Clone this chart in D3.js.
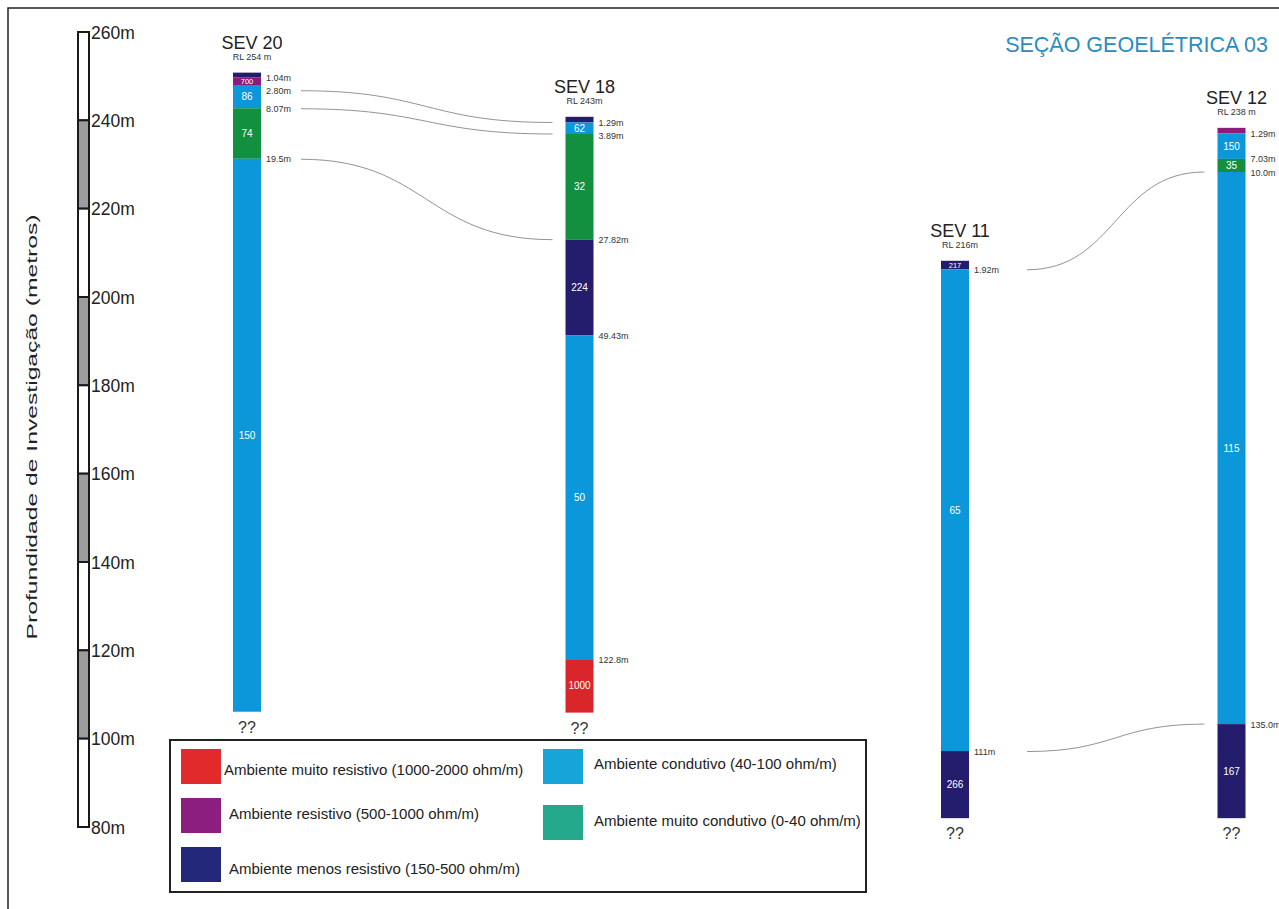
<!DOCTYPE html>
<html>
<head>
<meta charset="utf-8">
<script src="https://cdn.jsdelivr.net/npm/d3@7"></script>
<style>
  body { margin: 0; background: #fff; }
  svg { display: block; font-family: "Liberation Sans", Arial, sans-serif; }
</style>
</head>
<body>
<svg id="chart" width="1279" height="909"></svg>
<script>
// ---- Sounding data (elevations and depths in metres, resistivity in ohm·m) ----
const sevNames = ["SEV 20", "SEV 18", "SEV 11", "SEV 12"];
const rlLabels = ["RL 254 m", "RL 243m", "RL 216m", "RL 238 m"];
// elevation at which each column starts on the vertical scale
const surfaceElev = [250.8, 240.8, 208.2, 238.3];
// depth reached by the last (open) layer of each sounding
const baseDepth = [144.7, 134.9, 126.2, 156.3];

const sev20Depths = ["1.04", "2.80", "8.07", "19.5"];
const sev20Rho = ["", "700", "86", "74", "150"];
const sev20Class = ["menos", "resistivo", "condutivo", "muitoCondutivo", "condutivo"];

const sev18Depths = ["1.29", "3.89", "27.82", "49.43", "122.8"];
const sev18Rho = ["", "62", "32", "224", "50", "1000"];
const sev18Class = ["menos", "condutivo", "muitoCondutivo", "menos", "condutivo", "muitoResistivo"];

const sev11Depths = ["1.92", "111"];
const sev11Rho = ["217", "65", "266"];
const sev11Class = ["menos", "condutivo", "menos"];

const sev12Depths = ["1.29", "7.03", "10.0", "135.0"];
const sev12Rho = ["", "150", "35", "115", "167"];
const sev12Class = ["resistivo", "condutivo", "muitoCondutivo", "condutivo", "menos"];

// correlated boundaries: [sounding index, boundary index]
const linkFrom = [[0, 1], [0, 2], [0, 3], [2, 0], [2, 1]];
const linkTo   = [[1, 0], [1, 1], [1, 2], [3, 2], [3, 3]];

// vertical scale bar
const scaleTicks = [260, 240, 220, 200, 180, 160, 140, 120, 100, 80];

// legend
const legendKeys = ["muitoResistivo", "resistivo", "menos", "condutivo", "muitoCondutivo"];
const legendLabels = [
  "Ambiente muito resistivo (1000-2000 ohm/m)",
  "Ambiente resistivo (500-1000 ohm/m)",
  "Ambiente menos resistivo (150-500 ohm/m)",
  "Ambiente condutivo (40-100 ohm/m)",
  "Ambiente muito condutivo (0-40 ohm/m)"
];

const title = "SEÇÃO GEOELÉTRICA 03";
const axisTitle = "Profundidade de Investigação (metros)";

// ---- Colours ----
const layerColor = {
  muitoResistivo: "#d8262a",
  resistivo: "#8c1b7b",
  menos: "#241d6d",
  condutivo: "#0b97d9",
  muitoCondutivo: "#13903f"
};
const legendColor = {
  muitoResistivo: "#e02a2b",
  resistivo: "#8b1e7f",
  menos: "#24287a",
  condutivo: "#17a5d9",
  muitoCondutivo: "#24a98c"
};

// ---- Layout ----
const W = 1279, H = 909;
const svg = d3.select("#chart");
const y = d3.scaleLinear().domain([260, 80]).range([32, 827]);
const colX = [247, 579.5, 955, 1231.5];
const colW = 28;
const linkPad = [40, 0, 58, 0];

const soundings = [
  { depths: sev20Depths, rho: sev20Rho, cls: sev20Class },
  { depths: sev18Depths, rho: sev18Rho, cls: sev18Class },
  { depths: sev11Depths, rho: sev11Rho, cls: sev11Class },
  { depths: sev12Depths, rho: sev12Rho, cls: sev12Class }
].map((s, i) => {
  const bounds = [0, ...s.depths.map(Number), baseDepth[i]];
  const layers = s.cls.map((c, k) => ({
    cls: c, rho: s.rho[k], top: bounds[k], bottom: bounds[k + 1]
  }));
  return { i, name: sevNames[i], rl: rlLabels[i], surf: surfaceElev[i],
           depths: s.depths, layers };
});

const yDepth = (s, d) => y(s.surf - d);

// depth labels pushed apart so they never overlap
function labelY(s) {
  const out = [];
  s.depths.forEach((d, k) => {
    let v = yDepth(s, +d) + 3.5;
    if (k > 0) v = Math.max(v, out[k - 1] + 13);
    out.push(v);
  });
  return out;
}

// frame
svg.append("path")
  .attr("d", `M8,${H} V8 H${W}`)
  .attr("fill", "none").attr("stroke", "#222").attr("stroke-width", 1.5);

// title
svg.append("text")
  .attr("x", 1268).attr("y", 52)
  .attr("text-anchor", "end")
  .attr("font-size", 21.5).attr("fill", "#2b8cc4")
  .text(title);

// axis title
svg.append("text")
  .attr("transform", "translate(31,427) rotate(-90)")
  .attr("text-anchor", "middle").attr("dominant-baseline", "central")
  .attr("font-size", 15).attr("fill", "#222")
  .attr("textLength", 425).attr("lengthAdjust", "spacingAndGlyphs")
  .text(axisTitle);

// scale bar with alternating segments
const bar = svg.append("g");
const segs = d3.pairs(scaleTicks);
bar.selectAll("rect.seg").data(segs).join("rect")
  .attr("class", "seg")
  .attr("x", 78).attr("width", 11)
  .attr("y", d => y(d[0])).attr("height", d => y(d[1]) - y(d[0]))
  .attr("fill", (d, k) => k % 2 ? "#9d9d9d" : "#fff")
  .attr("stroke", "#1a1a1a").attr("stroke-width", 2);
bar.selectAll("text").data(scaleTicks).join("text")
  .attr("x", 91).attr("y", d => y(d) + 6.5)
  .attr("font-size", 17.5).attr("fill", "#222")
  .text(d => d + "m");

// correlation lines between soundings
const link = d3.linkHorizontal();
svg.append("g").selectAll("path").data(linkFrom.map((f, k) => [f, linkTo[k]])).join("path")
  .attr("d", ([f, t]) => {
    const sf = soundings[f[0]], st = soundings[t[0]];
    const x0 = colX[f[0]] + colW / 2 + linkPad[f[0]];
    const y0 = labelY(sf)[f[1]] - 3;
    const x1 = colX[t[0]] - colW / 2 - 13;
    const y1 = yDepth(st, +st.depths[t[1]]);
    return link({ source: [x0, y0], target: [x1, y1] });
  })
  .attr("fill", "none").attr("stroke", "#777").attr("stroke-width", 0.8);

// columns
const cols = svg.append("g").selectAll("g.col").data(soundings).join("g").attr("class", "col");

cols.selectAll("rect").data(s => s.layers.map(l => ({ s, l }))).join("rect")
  .attr("x", d => colX[d.s.i] - colW / 2).attr("width", colW)
  .attr("y", d => yDepth(d.s, d.l.top))
  .attr("height", d => yDepth(d.s, d.l.bottom) - yDepth(d.s, d.l.top))
  .attr("fill", d => layerColor[d.l.cls]);

cols.selectAll("text.rho").data(s => s.layers.filter(l => l.rho).map(l => ({ s, l }))).join("text")
  .attr("class", "rho")
  .attr("x", d => colX[d.s.i])
  .attr("y", d => (yDepth(d.s, d.l.top) + yDepth(d.s, d.l.bottom)) / 2)
  .attr("text-anchor", "middle").attr("dominant-baseline", "central")
  .attr("fill", "#fff")
  .attr("font-size", d => (yDepth(d.s, d.l.bottom) - yDepth(d.s, d.l.top)) < 10 ? 7.5 : 10)
  .text(d => d.l.rho);

cols.selectAll("text.depth").data(s => labelY(s).map((v, k) => ({ s, v, t: s.depths[k] + "m" }))).join("text")
  .attr("class", "depth")
  .attr("x", d => colX[d.s.i] + colW / 2 + 5).attr("y", d => d.v)
  .attr("font-size", 9).attr("fill", "#333")
  .text(d => d.t);

cols.append("text")
  .attr("x", s => colX[s.i] + 5).attr("y", s => yDepth(s, 0) - 24)
  .attr("text-anchor", "middle").attr("font-size", 18).attr("fill", "#222")
  .text(s => s.name);
cols.append("text")
  .attr("x", s => colX[s.i] + 5).attr("y", s => yDepth(s, 0) - 13)
  .attr("text-anchor", "middle").attr("font-size", 9).attr("fill", "#333")
  .text(s => s.rl);
cols.append("text")
  .attr("x", s => colX[s.i]).attr("y", s => yDepth(s, baseDepth[s.i]) + 21)
  .attr("text-anchor", "middle").attr("font-size", 16).attr("fill", "#333")
  .text("??");

// legend
const lg = svg.append("g");
lg.append("rect").attr("x", 170).attr("y", 740).attr("width", 696).attr("height", 152)
  .attr("fill", "#fff").attr("stroke", "#222").attr("stroke-width", 2);
const swX = [181, 181, 181, 543, 543];
const swY = [749, 798, 847, 749, 805];
const txX = [224, 229, 229, 594, 594];
const txY = [769, 813, 868, 763, 820];
const items = lg.selectAll("g.item").data(legendKeys).join("g").attr("class", "item");
items.append("rect")
  .attr("x", (d, k) => swX[k]).attr("y", (d, k) => swY[k])
  .attr("width", 40).attr("height", 35)
  .attr("fill", d => legendColor[d]);
items.append("text")
  .attr("x", (d, k) => txX[k]).attr("y", (d, k) => txY[k])
  .attr("dominant-baseline", "central")
  .attr("font-size", 15).attr("fill", "#222")
  .text((d, k) => legendLabels[k]);
</script>
</body>
</html>
